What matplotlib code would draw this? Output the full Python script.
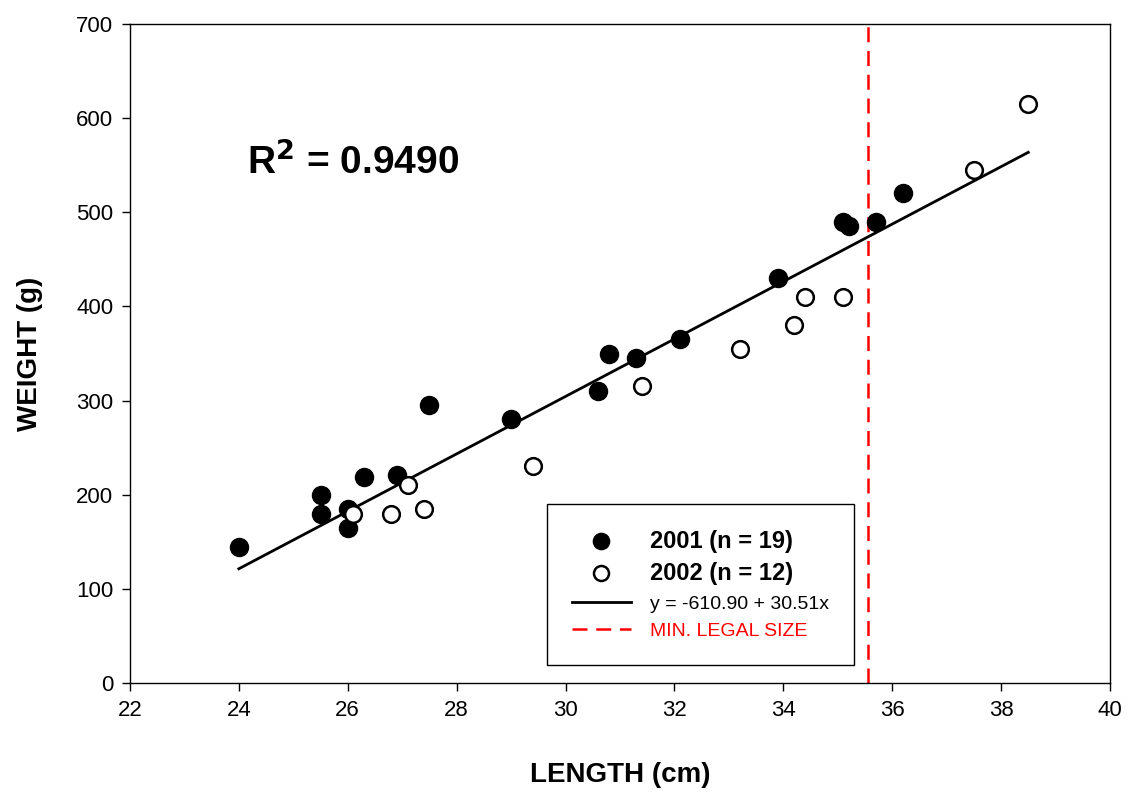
import matplotlib.pyplot as plt
import numpy as np

plt.rcParams['font.family'] = ['Liberation Sans', 'DejaVu Sans']

# 2001 samples (filled)
len_2001 = [24.0, 25.5, 25.5, 26.0, 26.0, 26.3, 26.9, 27.5, 29.0, 30.6,
            30.8, 31.3, 32.1, 33.9, 35.1, 35.2, 35.7, 36.2]
wt_2001 = [145, 200, 180, 185, 165, 219, 221, 295, 280, 310,
           350, 345, 365, 430, 490, 485, 490, 520]

# 2002 samples (open)
len_2002 = [26.1, 26.8, 27.1, 27.4, 29.4, 31.4, 33.2, 34.2, 34.4, 35.1, 37.5, 38.5]
wt_2002 = [180, 180, 210, 185, 230, 315, 355, 380, 410, 410, 545, 615]

# regression  y = -610.90 + 30.51x
intercept = -610.90
slope = 30.51
fit_range = [24.0, 38.5]

min_legal = 35.56  # 14 in

fig = plt.figure(figsize=(11.28, 7.93), dpi=100)
ax = fig.add_axes([0.1152, 0.1387, 0.8688, 0.831])

fx = np.array(fit_range)
ax.plot(len_2001, wt_2001, 'o', color='black', ms=13, label='2001 (n = 19)', zorder=3)
ax.plot(len_2002, wt_2002, 'o', mfc='white', mec='black', mew=1.8, ms=12,
        label='2002 (n = 12)', zorder=3)
ax.plot(fx, intercept + slope * fx, '-', color='black', lw=2,
        label='y = -610.90 + 30.51x', zorder=2)
ax.axvline(min_legal, color='red', ls=(0, (6, 3.5)), lw=1.8, label='MIN. LEGAL SIZE')

ax.set_xlim(22, 40)
ax.set_ylim(0, 700)
ax.set_xticks(range(22, 41, 2))
ax.set_yticks(range(0, 701, 100))
ax.tick_params(direction='out', length=6, width=1, labelsize=16, pad=6)
for s in ax.spines.values():
    s.set_linewidth(1)

ax.set_xlabel('LENGTH (cm)', fontsize=20, fontweight='bold', labelpad=30)
ax.set_ylabel('WEIGHT (g)', fontsize=20, fontweight='bold', labelpad=24)

ax.text(0.119, 0.79, r'R$^{\mathbf{2}}$ = 0.9490', transform=ax.transAxes,
        fontsize=28, fontweight='bold', va='center')

leg = ax.legend(loc='lower left', bbox_to_anchor=(0.4255, 0.027), fancybox=False,
                edgecolor='black', framealpha=1, borderpad=1.3, labelspacing=0.5,
                handlelength=3.0, handletextpad=1.0, borderaxespad=0,
                prop={'size': 14}, markerscale=0.9)
leg.get_frame().set_linewidth(1)
texts = leg.get_texts()
for t in texts[:2]:
    t.set_fontweight('bold')
    t.set_fontsize(17)
texts[3].set_color('red')

plt.savefig('out.png', dpi=100)
plt.close()
